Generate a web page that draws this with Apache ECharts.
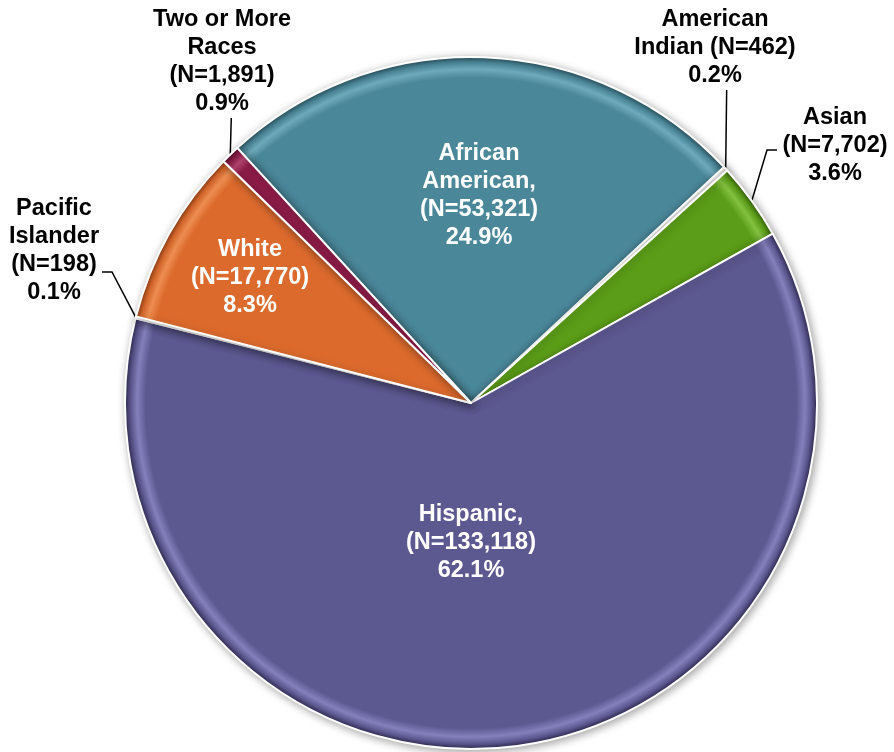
<!DOCTYPE html>
<html>
<head>
<meta charset="utf-8">
<script src="https://cdn.jsdelivr.net/npm/echarts@6/dist/echarts.min.js"></script>
<style>
  html, body { margin: 0; padding: 0; background: #fff; }
  #chart { width: 894px; height: 752px; }
</style>
</head>
<body>
<div id="chart"></div>
<script>
// race / ethnicity breakdown, clockwise from the top-left
var groups = ['African American', 'American Indian', 'Asian', 'Hispanic', 'Pacific Islander', 'White', 'Two or More Races'];
var counts = [53321, 462, 7702, 133118, 198, 17770, 1891];
var shares = ['24.9%', '0.2%', '3.6%', '62.1%', '0.1%', '8.3%', '0.9%'];
var nameLines = ['African\nAmerican,', 'American\nIndian', 'Asian', 'Hispanic,', 'Pacific\nIslander', 'White', 'Two or More\nRaces'];
var insideGroups = ['African American', 'Hispanic', 'White'];

var cx = 471, cy = 403, R = 346;
var startAngle = 132.5;

// base / highlight / edge colour of each slice
var palette = {
  'African American': ['#4a8799', '#6eaabb', '#2a4f5c'],
  'American Indian': ['#f4f4f4', '#ffffff', '#dddddd'],
  'Asian': ['#5b9d18', '#83c040', '#355f0b'],
  'Hispanic': ['#5c5890', '#8480bb', '#2e2b52'],
  'Pacific Islander': ['#ece8e2', '#ffffff', '#cccccc'],
  'White': ['#dc6a2d', '#ee8e52', '#8c3d15'],
  'Two or More Races': ['#8c1c48', '#b24470', '#520d28']
};

// where each label block sits
var spots = {
  'African American': [479, 196],
  'American Indian': [715, 48],
  'Asian': [835, 146],
  'Hispanic': [471, 543],
  'Pacific Islander': [54, 251],
  'White': [250, 278],
  'Two or More Races': [222, 62]
};

var total = counts.reduce(function (a, b) { return a + b; }, 0);

function midAngle(i) {
  var before = 0;
  for (var j = 0; j < i; j++) before += counts[j];
  return startAngle - (before + counts[i] / 2) / total * 360;
}
function rim(i) {
  var a = midAngle(i) * Math.PI / 180;
  return [cx + R * Math.cos(a), cy - R * Math.sin(a)];
}

function leaderFor(i) {
  var p = rim(i);
  switch (groups[i]) {
    case 'Two or More Races': return [p, [p[0] + 1, 118], [p[0] + 1, 118]];
    case 'American Indian': return [p, [p[0] + 1, 90], [p[0] + 1, 90]];
    case 'Asian': return [p, [767, 150], [777, 150]];
    case 'Pacific Islander': return [p, [112, 272], [102, 272]];
  }
  return null;
}

function rimGradient(c) {
  return {
    type: 'radial', x: cx, y: cy, r: R, global: true,
    colorStops: [
      { offset: 0, color: c[0] },
      { offset: 0.94, color: c[0] },
      { offset: 0.965, color: c[1] },
      { offset: 0.985, color: c[0] },
      { offset: 1, color: c[2] }
    ]
  };
}

var pieData = groups.map(function (g, i) {
  var inside = insideGroups.indexOf(g) > -1;
  return {
    name: g,
    value: counts[i],
    itemStyle: { color: rimGradient(palette[g]) },
    label: {
      position: inside ? 'inside' : 'outside',
      color: inside ? '#ffffff' : '#000000'
    },
    labelLine: { show: !inside }
  };
});

var chart = echarts.init(document.getElementById('chart'));
chart.setOption({
  animation: false,
  backgroundColor: '#ffffff',
  series: [{
    type: 'pie',
    center: [cx, cy],
    radius: R,
    startAngle: startAngle,
    clockwise: true,
    avoidLabelOverlap: false,
    minShowLabelAngle: 0,
    emphasis: { disabled: true },
    itemStyle: {
      borderColor: '#ffffff',
      borderWidth: 2,
      shadowBlur: 8,
      shadowColor: 'rgba(0,0,0,0.35)',
      shadowOffsetX: 2,
      shadowOffsetY: 2
    },
    label: {
      show: true,
      fontFamily: 'Liberation Sans, Arial, sans-serif',
      fontWeight: 'bold',
      fontSize: 23.5,
      lineHeight: 28,
      align: 'center',
      formatter: function (p) {
        var i = p.dataIndex;
        var sep = groups[i] === 'American Indian' ? ' ' : '\n';
        return nameLines[i] + sep + '(N=' + counts[i].toLocaleString('en-US') + ')\n' + shares[i];
      }
    },
    labelLine: {
      show: true,
      lineStyle: { color: '#000000', width: 1.5 }
    },
    labelLayout: function (p) {
      var s = spots[groups[p.dataIndex]];
      var out = { x: s[0], y: s[1], align: 'center', verticalAlign: 'middle' };
      var pts = leaderFor(p.dataIndex);
      if (pts) out.labelLinePoints = pts;
      return out;
    },
    data: pieData
  }]
});
</script>
</body>
</html>
